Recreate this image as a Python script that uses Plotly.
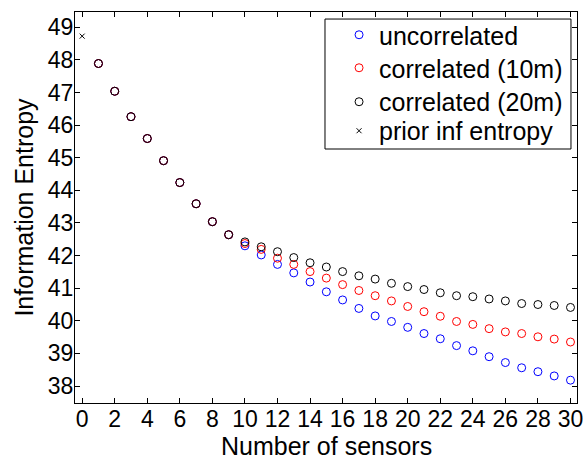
import plotly.graph_objects as go

# Number of sensors placed
sensors = list(range(1, 31))

# Information entropy after placing n sensors
entropy_uncorrelated = [47.89, 47.04, 46.26, 45.59, 44.91, 44.24, 43.59, 43.04, 42.64, 42.30,
                        42.02, 41.73, 41.47, 41.19, 40.89, 40.64, 40.38, 40.15, 39.98, 39.80,
                        39.61, 39.45, 39.24, 39.08, 38.90, 38.72, 38.56, 38.44, 38.31, 38.18]
entropy_corr_10m = [47.89, 47.04, 46.26, 45.59, 44.91, 44.24, 43.59, 43.04, 42.64, 42.37,
                    42.19, 41.92, 41.73, 41.51, 41.31, 41.11, 40.93, 40.77, 40.61, 40.44,
                    40.28, 40.14, 39.98, 39.89, 39.76, 39.66, 39.61, 39.51, 39.44, 39.35]
entropy_corr_20m = [47.89, 47.04, 46.26, 45.59, 44.91, 44.24, 43.59, 43.04, 42.64, 42.42,
                    42.27, 42.12, 41.94, 41.78, 41.65, 41.51, 41.38, 41.28, 41.15, 41.05,
                    40.96, 40.86, 40.77, 40.74, 40.67, 40.61, 40.53, 40.50, 40.47, 40.41]

# Prior information entropy (no sensors)
prior_x = [0]
prior_entropy = [48.73]

x_ticks = list(range(0, 31, 2))
y_ticks = list(range(38, 50))

FONT = "Liberation Sans, Arial, Helvetica, sans-serif"

fig = go.Figure()

# One legend per entry so the rows sit at fixed heights inside a framed box
legend_rows = ["legend", "legend2", "legend3", "legend4"]
legend_tops = [1.0, 0.9156, 0.8287, 0.7545]

series = [
    ("uncorrelated", entropy_uncorrelated, "#0000ff"),
    ("correlated (10m)", entropy_corr_10m, "#ff0000"),
    ("correlated (20m)", entropy_corr_20m, "#000000"),
]
for (name, vals, color), leg in zip(series, legend_rows):
    fig.add_trace(go.Scatter(
        x=sensors, y=vals, mode="markers", name=name, legend=leg,
        marker=dict(symbol="circle-open", size=8, color=color, line=dict(width=1, color=color)),
    ))

fig.add_trace(go.Scatter(
    x=prior_x, y=prior_entropy, mode="markers", name="prior inf entropy", legend=legend_rows[3],
    marker=dict(symbol="x-thin-open", size=5, color="black", line=dict(width=1, color="black")),
))

axis_common = dict(
    showline=True, linecolor="black", linewidth=1, mirror="ticks",
    ticks="inside", ticklen=5, tickwidth=1, tickcolor="black",
    showgrid=False, zeroline=False,
    tickfont=dict(family=FONT, size=23, color="black"),
    ticklabeloverflow="allow",
)

fig.update_xaxes(
    range=[-0.44, 30.40], tickvals=x_ticks, ticklabelstandoff=-5,
    **axis_common,
)
fig.update_yaxes(
    range=[37.48, 49.47], tickvals=y_ticks, ticklabelstandoff=-4,
    title=dict(text="Information Entropy", font=dict(family=FONT, size=25, color="black"), standoff=7),
    **axis_common,
)

legend_style = dict(
    x=0.526, xanchor="left", yanchor="top",
    bgcolor="rgba(0,0,0,0)", borderwidth=0,
    font=dict(family=FONT, size=25, color="black"),
    itemsizing="trace",
)
layout_legends = {leg: dict(y=top, **legend_style) for leg, top in zip(legend_rows, legend_tops)}

fig.update_layout(
    width=583, height=457,
    margin=dict(l=75, r=6, t=12, b=54, autoexpand=False),
    paper_bgcolor="white", plot_bgcolor="white",
    font=dict(family=FONT, color="black"),
    showlegend=True,
    shapes=[dict(
        type="rect", xref="paper", yref="paper",
        x0=0.498, x1=0.988, y0=0.6496, y1=0.982,
        line=dict(color="black", width=1), fillcolor="white", layer="above",
    )],
    # x-axis title, set low against the bottom edge of the page
    annotations=[dict(
        text="Number of sensors", xref="paper", yref="paper",
        x=0.5, y=-0.1100, xanchor="center", yanchor="middle",
        showarrow=False, font=dict(family=FONT, size=25, color="black"),
    )],
    **layout_legends,
)

fig.write_html("out.html")
